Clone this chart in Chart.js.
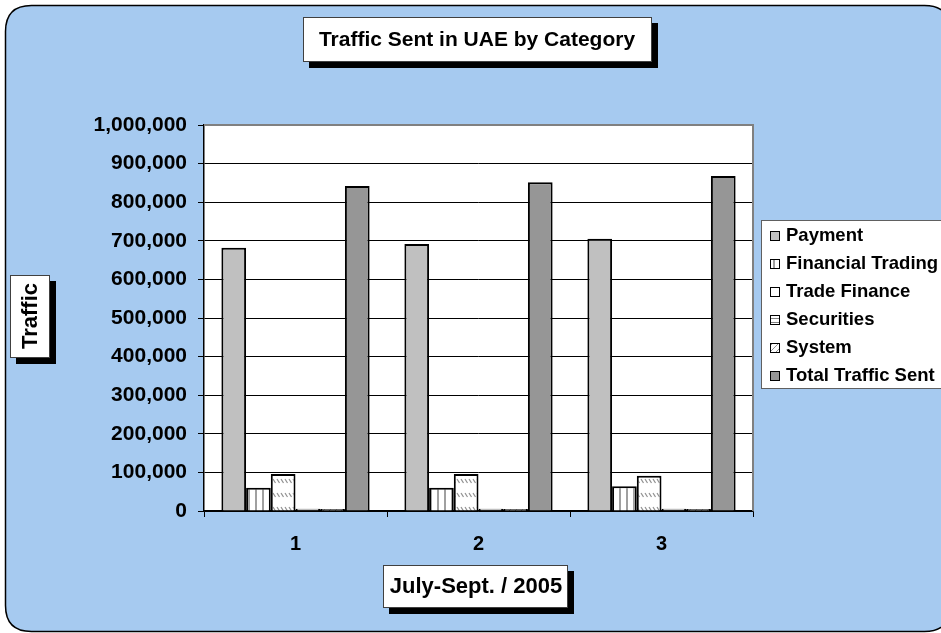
<!DOCTYPE html>
<html>
<head>
<meta charset="utf-8">
<script src="https://cdn.jsdelivr.net/npm/chart.js@4/dist/chart.umd.min.js"></script>
<style>
html,body{margin:0;padding:0;background:#fff;}
canvas{display:block;}
</style>
</head>
<body>
<canvas id="c" width="941" height="633"></canvas>
<script>
// ---- data ----
const categories = ['1', '2', '3'];
const seriesNames = ['Payment', 'Financial Trading', 'Trade Finance', 'Securities', 'System', 'Total Traffic Sent'];
const payment = [682000, 692000, 705000];
const financialTrading = [60000, 60000, 64000];
const tradeFinance = [96000, 96000, 91000];
const securities = [6000, 6000, 6000];
const systemTraffic = [5000, 5000, 5000];
const totalSent = [842000, 852000, 868000];
const yMin = 0, yMax = 1000000, yStep = 100000;
const chartTitle = 'Traffic Sent in UAE by Category';
const yTitle = 'Traffic';
const xTitle = 'July-Sept. / 2005';

const FONT = '"Liberation Sans", Arial, sans-serif';

function makePattern(type) {
  const c = document.createElement('canvas');
  const x = c.getContext('2d');
  if (type === 'vert') {
    c.width = 7; c.height = 4;
    x.fillStyle = '#fff'; x.fillRect(0, 0, 7, 4);
    x.fillStyle = '#a0a0a0'; x.fillRect(3, 0, 2, 4);
  } else if (type === 'dash') {
    c.width = 12; c.height = 14;
    x.fillStyle = '#fff'; x.fillRect(0, 0, 12, 14);
    x.strokeStyle = '#909090'; x.lineWidth = 1.2;
    for (let i = 0; i < 3; i++) {
      x.beginPath(); x.moveTo(1 + i * 4, 3); x.lineTo(3.5 + i * 4, 7); x.stroke();
    }
  } else if (type === 'horiz') {
    c.width = 4; c.height = 4;
    x.fillStyle = '#fff'; x.fillRect(0, 0, 4, 4);
    x.fillStyle = '#808080'; x.fillRect(0, 2, 4, 1);
  } else if (type === 'diag') {
    c.width = 6; c.height = 6;
    x.fillStyle = '#fff'; x.fillRect(0, 0, 6, 6);
    x.strokeStyle = '#909090'; x.lineWidth = 1;
    x.beginPath(); x.moveTo(0, 6); x.lineTo(6, 0); x.stroke();
  }
  return x.createPattern(c, 'repeat');
}

const fills = ['#C0C0C0', makePattern('vert'), makePattern('dash'), makePattern('horiz'), makePattern('diag'), '#969696'];
const values = [payment, financialTrading, tradeFinance, securities, systemTraffic, totalSent];

const datasets = seriesNames.map((n, i) => ({
  label: n,
  data: values[i],
  backgroundColor: fills[i],
  borderColor: '#000',
  borderWidth: 2,
  borderSkipped: 'bottom',
  categoryPercentage: 0.81,
  barPercentage: 1.0
}));

function roundRect(ctx, x, y, w, h, r) {
  ctx.beginPath();
  ctx.moveTo(x + r, y);
  ctx.lineTo(x + w - r, y);
  ctx.quadraticCurveTo(x + w, y, x + w, y + r);
  ctx.lineTo(x + w, y + h - r);
  ctx.quadraticCurveTo(x + w, y + h, x + w - r, y + h);
  ctx.lineTo(x + r, y + h);
  ctx.quadraticCurveTo(x, y + h, x, y + h - r);
  ctx.lineTo(x, y + r);
  ctx.quadraticCurveTo(x, y, x + r, y);
  ctx.closePath();
}

function shadowBox(ctx, x, y, w, h) {
  ctx.fillStyle = '#000';
  ctx.fillRect(x + 6, y + 6, w, h);
  ctx.fillStyle = '#fff';
  ctx.fillRect(x, y, w, h);
  ctx.strokeStyle = '#404040';
  ctx.lineWidth = 1;
  ctx.strokeRect(x + 0.5, y + 0.5, w - 1, h - 1);
}

const decor = {
  id: 'decor',
  beforeDraw(chart) {
    const ctx = chart.ctx;
    ctx.save();
    ctx.fillStyle = '#fff';
    ctx.fillRect(0, 0, chart.width, chart.height);
    roundRect(ctx, 5.5, 5.5, 945, 626, 26);
    ctx.fillStyle = '#A6CAF0';
    ctx.fill();
    ctx.strokeStyle = '#000';
    ctx.lineWidth = 1.5;
    ctx.stroke();
    const a = chart.chartArea;
    ctx.fillStyle = '#fff';
    ctx.fillRect(a.left, a.top, a.right - a.left, a.bottom - a.top);
    ctx.restore();
  },
  afterDraw(chart) {
    const ctx = chart.ctx;
    const a = chart.chartArea;
    ctx.save();
    // plot border top & right
    ctx.strokeStyle = '#808080';
    ctx.lineWidth = 2;
    ctx.beginPath();
    ctx.moveTo(a.left, a.top);
    ctx.lineTo(a.right, a.top);
    ctx.lineTo(a.right, a.bottom);
    ctx.stroke();

    // title
    shadowBox(ctx, 303, 17, 349, 45);
    ctx.fillStyle = '#000';
    ctx.font = 'bold 21px ' + FONT;
    ctx.textAlign = 'center';
    ctx.textBaseline = 'middle';
    ctx.fillText(chartTitle, 477, 40);

    // x title
    shadowBox(ctx, 383, 565, 185, 43);
    ctx.fillStyle = '#000';
    ctx.font = 'bold 22px ' + FONT;
    ctx.fillText(xTitle, 476, 587);

    // y title
    shadowBox(ctx, 10, 275, 40, 83);
    ctx.fillStyle = '#000';
    ctx.save();
    ctx.translate(31, 316);
    ctx.rotate(-Math.PI / 2);
    ctx.font = 'bold 22px ' + FONT;
    ctx.fillText(yTitle, 0, 0);
    ctx.restore();

    // legend
    ctx.fillStyle = '#fff';
    ctx.fillRect(761, 220, 200, 168);
    ctx.strokeStyle = '#606060';
    ctx.lineWidth = 1;
    ctx.strokeRect(761.5, 220.5, 200, 168);
    ctx.font = 'bold 18.5px ' + FONT;
    ctx.textAlign = 'left';
    ctx.textBaseline = 'middle';
    chart.data.datasets.forEach((ds, i) => {
      const cy = 236 + i * 28;
      ctx.fillStyle = ds.backgroundColor;
      ctx.fillRect(770, cy - 5, 10, 10);
      ctx.strokeStyle = '#000';
      ctx.lineWidth = 1;
      ctx.strokeRect(770.5, cy - 4.5, 9, 9);
      ctx.fillStyle = '#000';
      ctx.fillText(ds.label, 786, cy);
    });
    ctx.restore();
  }
};

new Chart(document.getElementById('c'), {
  type: 'bar',
  data: { labels: categories, datasets: datasets },
  options: {
    responsive: false,
    devicePixelRatio: 1,
    animation: false,
    layout: { padding: { left: 0, top: 125, right: 188, bottom: 0 } },
    plugins: { legend: { display: false }, title: { display: false }, tooltip: { enabled: false } },
    scales: {
      x: {
        afterFit(s) { s.height = 122; },
        grid: { offset: true, drawOnChartArea: false, color: '#000', tickLength: 6, lineWidth: 1 },
        border: { color: '#000', width: 1.5 },
        ticks: { color: '#000', font: { family: FONT, size: 20, weight: 'bold' }, padding: 15 }
      },
      y: {
        min: yMin, max: yMax,
        afterFit(s) { s.width = 204; },
        grid: { color: '#000', tickLength: 6, lineWidth: 1 },
        border: { color: '#000', width: 1.5 },
        ticks: {
          stepSize: yStep,
          color: '#000',
          padding: 11,
          font: { family: FONT, size: 21, weight: 'bold' },
          callback: v => v.toLocaleString('en-US')
        }
      }
    }
  },
  plugins: [decor]
});
</script>
</body>
</html>
